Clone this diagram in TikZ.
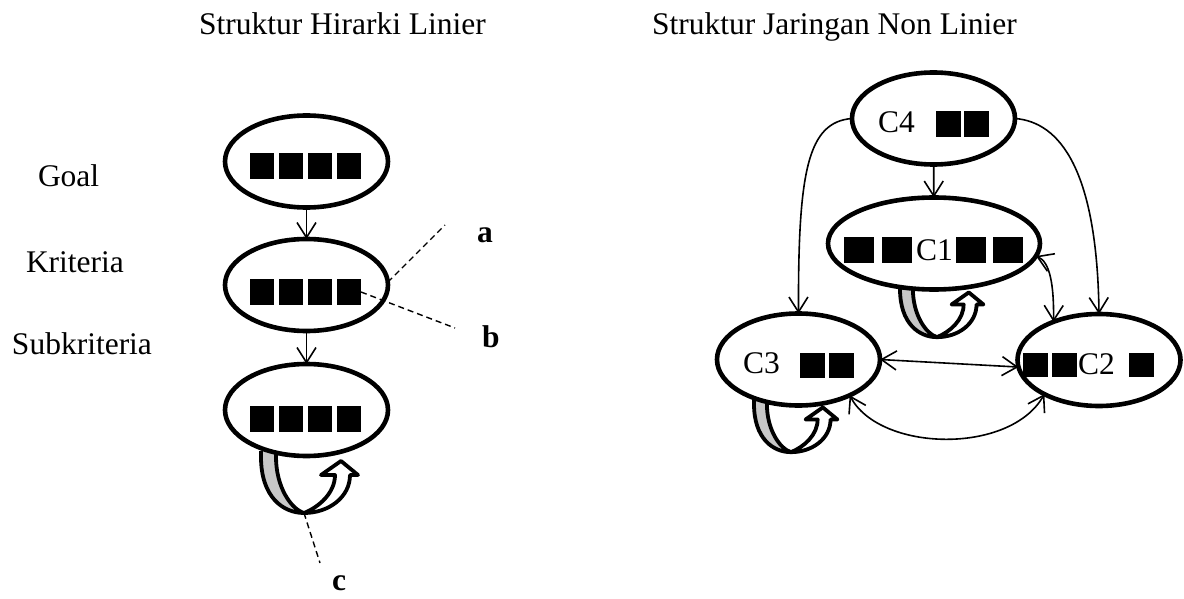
\documentclass[tikz,border=0pt]{standalone}
\usepackage{fontspec}
\setmainfont{Liberation Serif}
\usetikzlibrary{shapes.geometric,arrows.meta}

\begin{document}
\begin{tikzpicture}[x=1pt,y=-1pt,
  every node/.style={inner sep=0pt, outer sep=0pt},
  txt/.style={font=\fontsize{31.5}{36}\selectfont, anchor=base west},
  lbl/.style={font=\fontsize{31.5}{36}\selectfont\bfseries, anchor=base west},
  blob/.style={ellipse, draw, line width=4.6pt, fill=white,
               minimum width=163pt, minimum height=92pt},
  sq/.style={rectangle, fill=black, minimum width=24pt, minimum height=26pt},
  tip/.tip={Straight Barb[length=15pt,width=19pt]},
  link/.style={line width=1.6pt, -tip},
  twoway/.style={line width=1.6pt, tip-tip},
  leader/.style={line width=1.4pt, dash pattern=on 6pt off 4pt},
  loopline/.style={line width=3.8pt, line join=round},
  uloop/.pic={
    % shaded back strip of the U-turn arrow
    \filldraw[loopline, fill=black!22]
      (0,-6) -- (0,0) .. controls (0,40) and (22,56) .. (43,56)
      .. controls (30,52) and (15,30) .. (15,0) -- (15,-6);
    % front strip with its open head
    \filldraw[loopline, fill=white]
      (43,56) .. controls (68,56) and (89,40) .. (89,18)
      -- (97,18) -- (80,4) -- (60,18) -- (74,18)
      .. controls (74,36) and (58,50) .. (43,56) -- cycle;
    \coordinate (-bot) at (43,56);
  }
]
\useasboundingbox (0,0) rectangle (1184,599);

% titles
\node[txt] (t1) at (199,35) {Struktur Hirarki Linier};
\node[txt] (t2) at (652,35) {Struktur Jaringan Non Linier};

% level names
\node[txt] (tgoal) at (38,186) {Goal};
\node[txt] (tkrit) at (26,272) {Kriteria};
\node[txt] (tsub)  at (12,354) {Subkriteria};

% self-feedback loops (drawn first, the ellipses sit on top)
\pic (subloop) at (261,457) {uloop};
\pic[scale=0.86] (c3loop) at (754,404) {uloop};
\pic[scale=0.86] (c1loop) at (900,289) {uloop};

% linear hierarchy
\node[blob] (goal) at (306.5,161.5) {};
\node[blob] (krit) at (306.5,285) {};
\node[blob] (sub)  at (306.5,410) {};
\foreach \r/\y in {goal/166, krit/292, sub/418.5}{
  \foreach \i/\x in {1/262,2/291,3/320,4/349}
    \node[sq] (\r-s\i) at (\x,\y) {};
}
\draw[link] (goal) -- (krit);
\draw[link] (krit) -- (sub);

% leaders and their letters
\coordinate (a-end) at (445,225);
\coordinate (b-end) at (455,328);
\coordinate (c-end) at (320,563);
\draw[leader] (krit.2) -- (a-end);
\draw[leader] (krit-s4.east) -- (b-end);
\draw[leader] (subloop-bot) -- (c-end);
\node[lbl] (la) at (477,242) {a};
\node[lbl] (lb) at (482,347) {b};
\node[lbl] (lc) at (332,590) {c};

% network of clusters
\node[blob] (c4) at (933.5,118.5) {};
\node[blob, minimum width=212pt] (c1) at (934,243.5) {};
\node[blob] (c2) at (1099,360) {};
\node[blob] (c3) at (798.5,359.5) {};

\node[txt] (c4t) at (878,133) {C4};
\node[sq, minimum width=25pt] (c4-s1) at (948,124) {};
\node[sq, minimum width=25pt] (c4-s2) at (976.5,124) {};

\node[sq, minimum width=30pt] (c1-s1) at (859,250) {};
\node[sq, minimum width=30pt] (c1-s2) at (897,250) {};
\node[txt] (c1t) at (916,260) {C1};
\node[sq, minimum width=30pt] (c1-s3) at (971,250) {};
\node[sq, minimum width=30pt] (c1-s4) at (1008,250) {};

\node[sq, minimum width=25pt, minimum height=24pt] (c2-s1) at (1035.5,365) {};
\node[sq, minimum width=25pt, minimum height=24pt] (c2-s2) at (1064,365) {};
\node[txt] (c2t) at (1078,374) {C2};
\node[sq, minimum width=25pt, minimum height=24pt] (c2-s3) at (1141.5,365) {};

\node[txt] (c3t) at (743,373) {C3};
\node[sq, minimum width=25pt, minimum height=25pt] (c3-s1) at (812.5,365.5) {};
\node[sq, minimum width=25pt, minimum height=25pt] (c3-s2) at (841.5,365.5) {};

\draw[link] (c4) -- (c1);
\draw[link] (c4.west) .. controls (808,122) and (798,170) .. (c3.north);
\draw[link] (c4.east) .. controls (1060,122) and (1097,170) .. (c2.north);
\draw[twoway] (c1.-7) .. controls (1050,262) and (1054,285) .. (c2.140);
\draw[twoway] (c3.east) -- (c2.185);
\draw[twoway] (c3.-35) .. controls (880,452) and (1010,455) .. (c2.212);
\end{tikzpicture}
\end{document}
